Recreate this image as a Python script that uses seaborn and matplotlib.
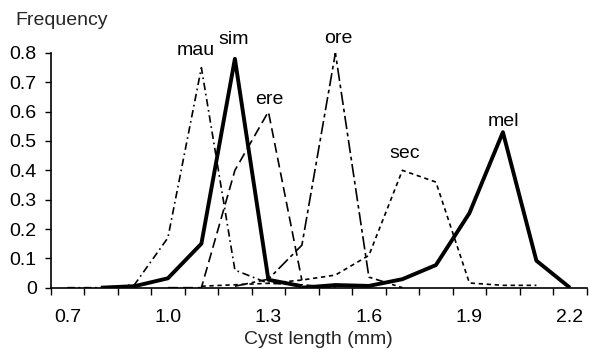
import numpy as np
import pandas as pd
import matplotlib
matplotlib.use("Agg")
import matplotlib.pyplot as plt
import seaborn as sns

# Categories (cyst length, mm)
categories = ["0.7", "0.8", "0.9", "1.0", "1.1", "1.2", "1.3", "1.4",
              "1.5", "1.6", "1.7", "1.8", "1.9", "2.0", "2.1", "2.2"]
tick_labels = ["0.7", "1.0", "1.3", "1.6", "1.9", "2.2"]

nan = np.nan
mau = [0.0, 0.0, 0.01, 0.17, 0.75, 0.06, 0.015, 0.01, 0.0, nan, nan, nan, nan, nan, nan, nan]
sim = [nan, 0.0, 0.005, 0.032, 0.15, 0.78, 0.027, 0.005, nan, nan, nan, nan, nan, nan, nan, nan]
ere = [nan, nan, nan, 0.0, 0.0, 0.40, 0.60, 0.025, nan, nan, nan, nan, nan, nan, nan, nan]
ore = [nan, nan, nan, nan, nan, 0.005, 0.029, 0.145, 0.80, 0.036, 0.0, nan, nan, nan, nan, nan]
sec = [nan, nan, nan, nan, 0.005, 0.01, 0.015, 0.026, 0.043, 0.11, 0.40, 0.36, 0.016, 0.008, 0.008, nan]
mel = [nan, nan, nan, nan, nan, nan, nan, 0.0, 0.009, 0.006, 0.029, 0.077, 0.254, 0.53, 0.092, 0.0]

series = {"mau": mau, "sim": sim, "ere": ere, "ore": ore, "sec": sec, "mel": mel}
styles = {
    "mau": dict(linestyle=(0, (4.5, 2.2, 1, 2.2)), linewidth=1.2),
    "sim": dict(linestyle="-", linewidth=2.8),
    "ere": dict(linestyle=(0, (6, 3)), linewidth=1.2),
    "ore": dict(linestyle=(0, (8, 2.2, 2.2, 2.2)), linewidth=1.2),
    "sec": dict(linestyle=(0, (2.6, 2.2)), linewidth=1.2),
    "mel": dict(linestyle="-", linewidth=2.8),
}
# label anchor (category index, value)
label_pos = {"mau": (3.84, 0.808), "sim": (4.97, 0.847), "ere": (6.02, 0.64),
             "ore": (8.08, 0.85), "sec": (10.07, 0.458), "mel": (13.03, 0.566)}

sns.set_theme(style="ticks")
plt.rcParams["font.family"] = ["Liberation Sans", "DejaVu Sans"]
FS = 14

fig = plt.figure(figsize=(5.89, 3.49), dpi=100)
ax = fig.add_axes([0.086, 0.1757, 0.91, 0.6725])

idx = np.arange(len(categories))
for name, vals in series.items():
    df = pd.DataFrame({"x": idx, "y": vals}).dropna()
    sns.lineplot(data=df, x="x", y="y", ax=ax, color="black",
                 solid_capstyle="butt", dash_capstyle="butt", **styles[name])
    lx, ly = label_pos[name]
    ax.text(lx, ly, name, ha="center", va="center", fontsize=FS, color="black")

ax.set_xlim(-0.5, len(categories) - 0.5)
ax.set_ylim(0, 0.8)
ax.set_xticks([categories.index(t) for t in tick_labels])
ax.set_xticklabels(tick_labels, fontsize=FS)
ax.set_xticks(np.arange(-0.5, len(categories), 1.0), minor=True)
ax.tick_params(axis="x", which="major", length=0, pad=15)
ax.tick_params(axis="x", which="minor", length=5, width=1.0, direction="out", color="black")
ax.set_yticks(np.arange(0, 0.81, 0.1))
ax.set_yticklabels(["0"] + [f"{v:.1f}" for v in np.arange(0.1, 0.81, 0.1)], fontsize=FS)
ax.tick_params(axis="y", length=4, width=1.0, direction="out", pad=6, color="black")
ax.tick_params(colors="black")
for s in ["top", "right"]:
    ax.spines[s].set_visible(False)
for s in ["left", "bottom"]:
    ax.spines[s].set_color("black")
    ax.spines[s].set_linewidth(1.2)
ax.set_xlabel("Cyst length (mm)", fontsize=FS, labelpad=4)
ax.set_ylabel("")
fig.text(15 / 589, 0.94, "Frequency", fontsize=FS, ha="left", va="center")

fig.savefig("out.png", dpi=100, facecolor="white")
